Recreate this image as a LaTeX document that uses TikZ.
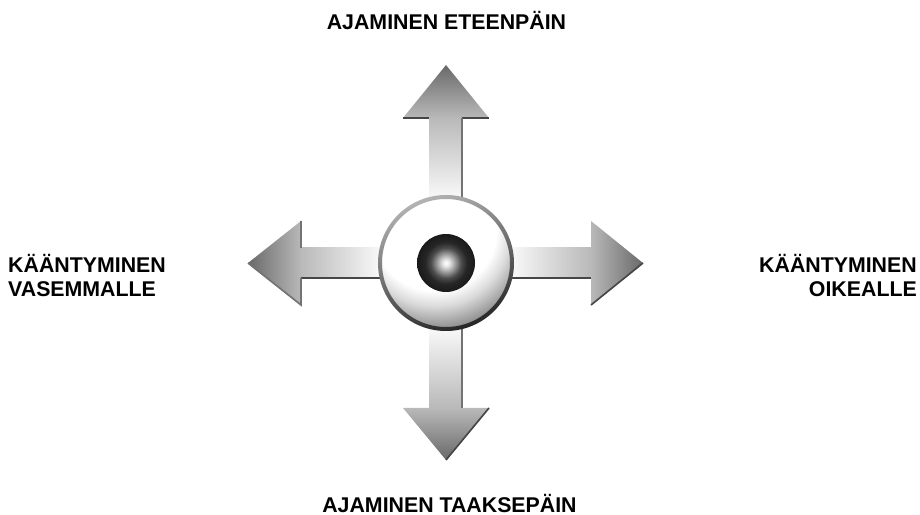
\documentclass[tikz,border=0pt]{standalone}
\usepackage{fontspec}
\setmainfont{Liberation Sans}
\usepackage{xcolor}
\usetikzlibrary{positioning,calc}
\definecolor{tipGray}{RGB}{105,105,105}
\definecolor{baseGray}{RGB}{185,185,185}
\definecolor{shaftMid}{RGB}{238,238,238}
\definecolor{shaftPale}{RGB}{248,248,248}
\definecolor{edgeDark}{RGB}{70,70,70}
\pgfdeclareradialshading{knobFace}{\pgfpoint{-5.7bp}{17bp}}{color(0bp)=(white);color(23.5bp)=(white);color(28.4bp)=(black!14);color(36bp)=(black!45);color(42.4bp)=(black!70);color(100bp)=(black!70)}
\pgfdeclareradialshading{knobEye}{\pgfpoint{0bp}{0bp}}{color(0bp)=(white);color(3bp)=(black!10);color(8bp)=(black!40);color(13bp)=(black!70);color(18bp)=(black!85);color(25bp)=(black!90);color(100bp)=(black!90)}
\tikzset{
    caption/.style={font=\bfseries\fontsize{18.2pt}{21.25pt}\selectfont, inner sep=0pt},
    edgeline/.style={draw=edgeDark, line width=0.05cm}
}

\begin{document}
\begin{tikzpicture}[x=0.03cm, y=-0.03cm]
            \useasboundingbox (0,0) rectangle (920,515);
            % up
            \shade[top color=baseGray, middle color=shaftMid, bottom color=shaftPale] (429,118) rectangle (462,197);
            \shade[top color=tipGray, bottom color=baseGray] (446,65) -- (489,118) -- (403,118) -- cycle;
            \draw[edgeline] (403,118) -- (429,118) (462,118) -- (489,118);
            \draw[edgeline, draw=black!55] (462,118) -- (462,197);
            % left
            \shade[left color=baseGray, middle color=shaftMid, right color=shaftPale] (301,248) rectangle (380,278);
            \shade[left color=tipGray, right color=baseGray] (248,263) -- (301,221) -- (301,305) -- cycle;
            \draw[edgeline] (301,278) -- (380,278);
            \draw[edgeline, draw=black!55] (301,221) -- (301,248) (301,278) -- (301,305) -- (248,263);
            % right
            \shade[left color=shaftPale, middle color=shaftMid, right color=baseGray] (512,248) rectangle (591,278);
            \shade[left color=baseGray, right color=tipGray] (643,263) -- (591,221) -- (591,305) -- cycle;
            \draw[edgeline] (512,278) -- (591,278);
            \draw[edgeline] (591,305) -- (643,263);
            % down
            \shade[top color=shaftPale, middle color=shaftMid, bottom color=baseGray] (429,329) rectangle (462,408);
            \shade[top color=baseGray, bottom color=tipGray] (446,460) -- (489,408) -- (403,408) -- cycle;
            \draw[edgeline, draw=black!55] (462,329) -- (462,408);
            \draw[edgeline] (489,408) -- (446,460);
            % knob
            \shade[shading=knobFace] (446,263) circle (66);
            \shade[even odd rule, shading=axis, top color=black!30, bottom color=black!85, shading angle=20] (446,263) circle (68) circle (64);
            \shade[shading=knobEye] (446,263) circle (29);
            % labels
            \node[caption, anchor=base] (forward) at (446.5,30) {AJAMINEN ETEENPÄIN};
            \node[caption, anchor=base] (backward) at (449.5,512) {AJAMINEN TAAKSEPÄIN};
            \node[caption, align=left, anchor=base west] (leftturn) at (8,297) {KÄÄNTYMINEN\\VASEMMALLE};
            \node[caption, align=right, anchor=base east] (rightturn) at (917,297) {KÄÄNTYMINEN\\OIKEALLE};
        \end{tikzpicture}
\end{document}
